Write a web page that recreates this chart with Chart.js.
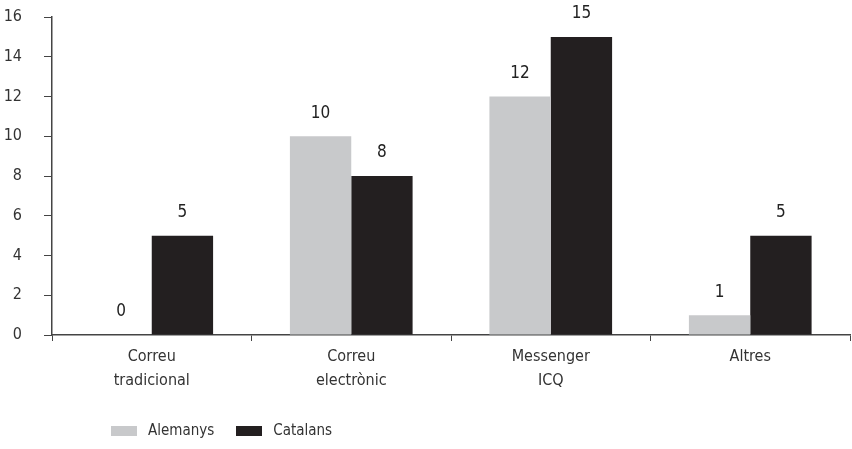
<!DOCTYPE html>
<html>
<head>
<meta charset="utf-8">
<script src="https://cdn.jsdelivr.net/npm/chart.js@4"></script>
<style>
  html, body { margin: 0; padding: 0; background: #fff; }
  #wrap { position: relative; width: 852px; height: 449px; }
  #legend { position: absolute; left: 111px; top: 421px; font: 15px "DejaVu Sans Condensed", sans-serif; color: #333; }
  #legend span.box { display: inline-block; width: 26px; height: 10px; vertical-align: middle; margin-right: 11px; }
  #legend span.item { margin-right: 22px; }
</style>
</head>
<body>
<div id="wrap">
  <canvas id="chart" width="852" height="449"></canvas>
  <div id="legend"></div>
</div>
<script>
var categories = [['Correu', 'tradicional'], ['Correu', 'electrònic'], ['Messenger', 'ICQ'], 'Altres'];
var alemanys = [0, 10, 12, 1];
var catalans = [5, 8, 15, 5];
var yTicks = [0, 2, 4, 6, 8, 10, 12, 14, 16];

var FONT = '"DejaVu Sans Condensed", sans-serif';
var GREY = '#c8c9cb';
var BLACK = '#231f20';

// etiquetes de valor sobre les barres
var valueLabels = {
    id: 'valueLabels',
    afterDatasetsDraw: function (chart) {
        var ctx = chart.ctx;
        ctx.save();
        ctx.font = '17px ' + FONT;
        ctx.fillStyle = '#222';
        ctx.textAlign = 'center';
        ctx.textBaseline = 'middle';
        chart.data.datasets.forEach(function (ds, i) {
            chart.getDatasetMeta(i).data.forEach(function (bar, j) {
                ctx.fillText(ds.data[j], bar.x, bar.y - 23);
            });
        });
        ctx.restore();
    }
};

var chart = new Chart(document.getElementById('chart').getContext('2d'), {
    type: 'bar',
    data: {
        labels: categories,
        datasets: [
            { label: 'Alemanys', data: alemanys, backgroundColor: GREY },
            { label: 'Catalans', data: catalans, backgroundColor: BLACK }
        ]
    },
    options: {
        responsive: false,
        animation: false,
        layout: { padding: { top: 17, right: 2, bottom: 52, left: 0 } },
        datasets: { bar: { categoryPercentage: 0.615, barPercentage: 1 } },
        plugins: {
            legend: { display: false },
            tooltip: { enabled: false }
        },
        scales: {
            x: {
                border: { color: '#444', width: 1.5 },
                grid: { drawOnChartArea: false, drawTicks: true, tickLength: 6, color: '#444', offset: true },
                ticks: { color: '#333', font: { family: FONT, size: 16, lineHeight: 1.5 }, padding: 4, maxRotation: 0 }
            },
            y: {
                min: 0,
                max: 16,
                afterFit: function (scale) {
                    scale.width = 52;
                    scale.paddingTop = 0;
                    scale.paddingBottom = 0;
                },
                afterBuildTicks: function (scale) {
                    scale.ticks = yTicks.map(function (v) { return { value: v }; });
                },
                border: { color: '#444', width: 1.5 },
                grid: { drawOnChartArea: false, drawTicks: true, tickLength: 8, color: '#444' },
                ticks: { color: '#333', font: { family: FONT, size: 16 }, padding: 22 }
            }
        }
    },
    plugins: [valueLabels]
});

// llegenda
var legend = document.getElementById('legend');
chart.data.datasets.forEach(function (ds) {
    var item = document.createElement('span');
    item.className = 'item';
    item.innerHTML = '<span class="box" style="background:' + ds.backgroundColor + '"></span>' + ds.label;
    legend.appendChild(item);
});
</script>
</body>
</html>
